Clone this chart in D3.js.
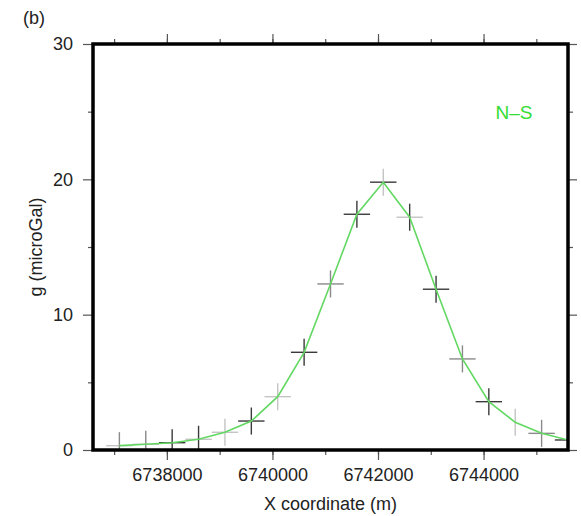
<!DOCTYPE html>
<html>
<head>
<meta charset="utf-8">
<script src="https://cdn.jsdelivr.net/npm/d3@7"></script>
<style>
  body { margin: 0; background: #fff; }
  text { font-family: "Liberation Sans", Arial, Helvetica, sans-serif; }
</style>
</head>
<body>
<div id="chart-area"></div>
<script>

// station positions along the profile (m) and gravity values (microGal)
var xCoords = [6737100, 6737600, 6738100, 6738600, 6739100, 6739600, 6740100, 6740600, 6741100,
               6741600, 6742100, 6742600, 6743100, 6743600, 6744100, 6744600, 6745100, 6745600];
var gValues = [0.32, 0.42, 0.54, 0.79, 1.31, 2.14, 3.94, 7.22, 12.27,
               17.42, 19.79, 17.2, 11.88, 6.73, 3.57, 2.05, 1.23, 0.74];
var gErrors = [1, 1, 1, 1, 1, 1, 1, 1, 1, 1, 1, 1, 1, 1, 1, 1, 1, 1];
var xErrors = [250, 250, 250, 250, 250, 250, 250, 250, 250, 250, 250, 250, 250, 250, 250, 250, 250, 250];

// which survey each bar of the cross comes from
var hSurvey = ["B", "B", "A", "B", "B", "A", "B", "A", "C", "A", "A", "B", "A", "C", "A", "", "C", "A"];
var vSurvey = ["C", "C", "A", "A", "B", "A", "B", "A", "C", "A", "B", "A", "A", "C", "A", "B", "C", "C"];

var xTicks = [6738000, 6740000, 6742000, 6744000];
var yTicks = [0, 10, 20, 30];
var panelLabel = "(b)";
var profileLabel = "N\u2013S";

var margin = { left: 93, right: 13, top: 44, bottom: 66 };
var width = 581 - margin.left - margin.right,
    height = 516 - margin.top - margin.bottom;

var svg = d3.select("#chart-area")
    .append("svg")
        .attr("width", 581)
        .attr("height", 516);

var g = svg.append("g")
    .attr("transform", "translate(" + margin.left + ", " + margin.top + ")");

// X Scale
var x = d3.scaleLinear()
    .domain([6736600, 6745600])
    .range([0, width]);

// Y Scale
var y = d3.scaleLinear()
    .domain([0, 30])
    .range([height, 0]);

var surveyColor = d3.scaleOrdinal()
    .domain(["A", "B", "C"])
    .range(["#3a3a3a", "#c4c4c4", "#8a8a8a"]);

svg.append("defs").append("clipPath")
    .attr("id", "clip")
    .append("rect")
        .attr("width", width)
        .attr("height", height);

// minor + major ticks on all four sides
var xMinor = d3.range(6737000, 6745600, 1000);
var yMinor = [5, 15, 25];

function tickAxis(axis) {
    return function(sel) {
        sel.call(axis);
        sel.select(".domain").remove();
        sel.selectAll("line").attr("stroke", "#555").attr("stroke-width", 1.2);
    };
}

g.append("g")
    .attr("transform", "translate(0," + height + ")")
    .call(tickAxis(d3.axisBottom(x).tickValues(xMinor).tickSize(5).tickFormat("")));
g.append("g")
    .attr("transform", "translate(0," + height + ")")
    .call(tickAxis(d3.axisBottom(x).tickValues(xTicks).tickSize(10).tickPadding(8).tickFormat(d3.format("d"))));
g.append("g")
    .call(tickAxis(d3.axisTop(x).tickValues(xMinor).tickSize(5).tickFormat("")));
g.append("g")
    .call(tickAxis(d3.axisTop(x).tickValues(xTicks).tickSize(10).tickFormat("")));

g.append("g")
    .call(tickAxis(d3.axisLeft(y).tickValues(yMinor).tickSize(5).tickFormat("")));
g.append("g")
    .call(tickAxis(d3.axisLeft(y).tickValues(yTicks).tickSize(10).tickPadding(10)));
g.append("g")
    .attr("transform", "translate(" + width + ",0)")
    .call(tickAxis(d3.axisRight(y).tickValues(yMinor).tickSize(5).tickFormat("")));
g.append("g")
    .attr("transform", "translate(" + width + ",0)")
    .call(tickAxis(d3.axisRight(y).tickValues(yTicks).tickSize(9).tickFormat("")));

g.selectAll(".tick text")
    .attr("font-size", "18px")
    .attr("fill", "#222")
    .style("font-family", "'Liberation Sans', Arial, sans-serif");

// crosses
var pts = xCoords.map(function(d, i) {
    return { x: d, g: gValues[i], ge: gErrors[i], xe: xErrors[i], h: hSurvey[i], v: vSurvey[i] };
});

var marks = g.append("g").attr("clip-path", "url(#clip)");

marks.selectAll("line.h")
    .data(pts.filter(function(d) { return d.h !== ""; }))
    .enter().append("line")
        .attr("class", "h")
        .attr("x1", function(d) { return x(d.x - d.xe); })
        .attr("x2", function(d) { return x(d.x + d.xe); })
        .attr("y1", function(d) { return y(d.g); })
        .attr("y2", function(d) { return y(d.g); })
        .attr("stroke", function(d) { return surveyColor(d.h); })
        .attr("stroke-width", 1.4);

marks.selectAll("line.v")
    .data(pts)
    .enter().append("line")
        .attr("class", "v")
        .attr("x1", function(d) { return x(d.x); })
        .attr("x2", function(d) { return x(d.x); })
        .attr("y1", function(d) { return y(d.g - d.ge); })
        .attr("y2", function(d) { return y(d.g + d.ge); })
        .attr("stroke", function(d) { return surveyColor(d.v); })
        .attr("stroke-width", 1.4);

// model curve
var line = d3.line()
    .x(function(d) { return x(d.x); })
    .y(function(d) { return y(d.g); });

marks.append("path")
    .datum(pts)
    .attr("d", line)
    .attr("fill", "none")
    .attr("stroke", "#62d862")
    .attr("stroke-width", 1.6);

// frame
g.append("rect")
    .attr("width", width)
    .attr("height", height)
    .attr("fill", "none")
    .attr("stroke", "#000")
    .attr("stroke-width", 3.5);

// labels
g.append("text")
    .attr("x", width / 2)
    .attr("y", height + 60)
    .attr("font-size", "18px")
    .attr("text-anchor", "middle")
    .attr("fill", "#222")
    .text("X coordinate (m)");

g.append("text")
    .attr("transform", "rotate(-90)")
    .attr("x", -(height / 2))
    .attr("y", -51)
    .attr("font-size", "18px")
    .attr("text-anchor", "middle")
    .attr("fill", "#222")
    .text("g (microGal)");

svg.append("text")
    .attr("x", 23)
    .attr("y", 24)
    .attr("font-size", "18px")
    .attr("fill", "#222")
    .text(panelLabel);

g.append("text")
    .attr("x", 421)
    .attr("y", 75)
    .attr("font-size", "19px")
    .attr("text-anchor", "middle")
    .attr("fill", "#33dd33")
    .text(profileLabel);

</script>
</body>
</html>
